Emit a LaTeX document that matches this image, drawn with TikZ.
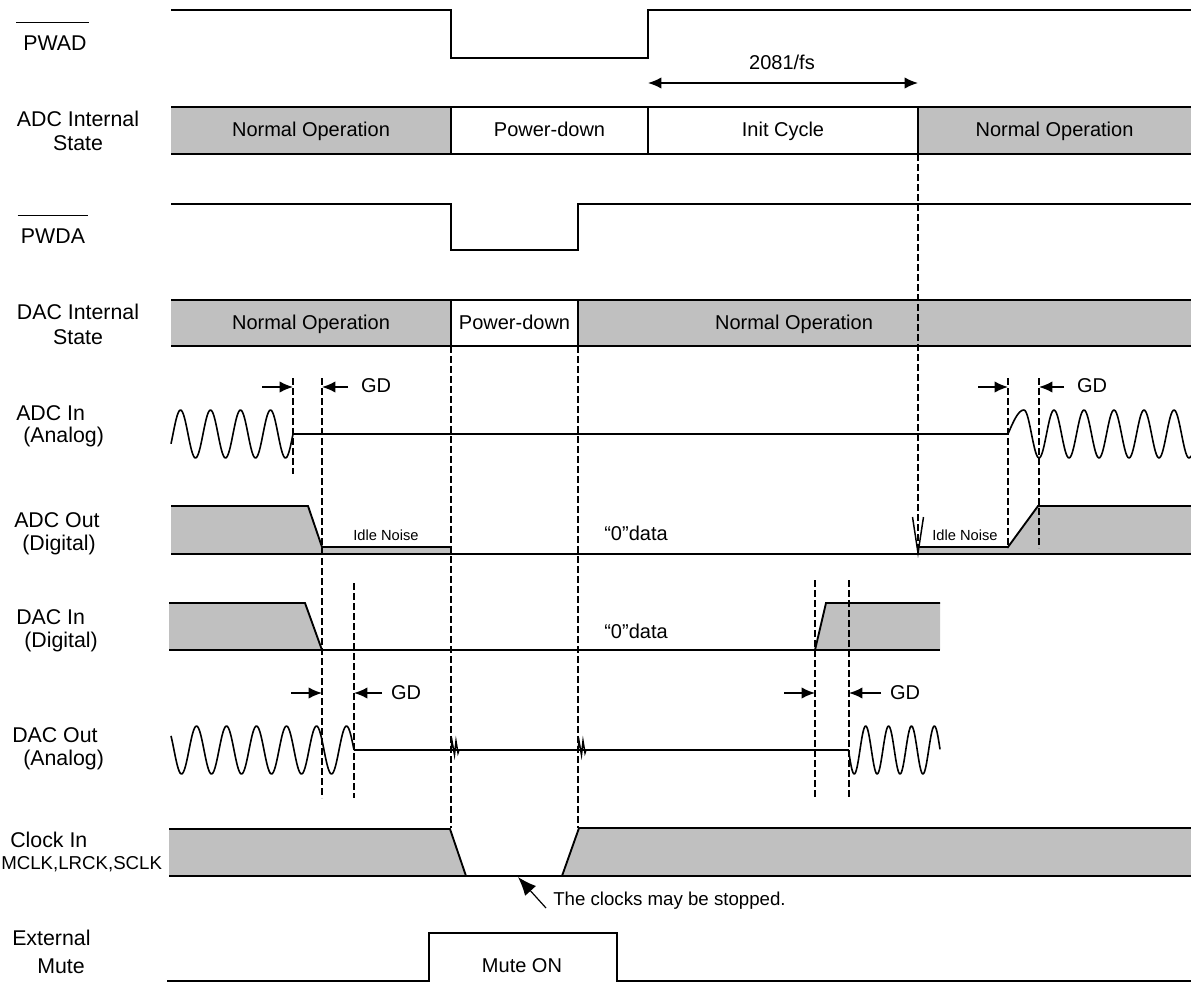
\documentclass[tikz,border=0pt]{standalone}
\usepackage{fontspec}
\setmainfont{Liberation Sans}
\usetikzlibrary{arrows.meta,calc}
\definecolor{gfill}{RGB}{192,192,192}
\begin{document}
\begin{tikzpicture}[x=0.75pt,y=-0.75pt,
  sig/.style={line width=1.4pt},
  wave/.style={line width=1.2pt, line join=round},
  dsh/.style={line width=1.1pt, dash pattern=on 5pt off 2.5pt},
  lbl/.style={font=\fontsize{16}{19}\selectfont, inner sep=0pt},
  txt/.style={font=\fontsize{15}{18}\selectfont, inner sep=0pt},
  bartxt/.style={font=\fontsize{15}{18}\selectfont, inner sep=0pt, anchor=base},
  smalltxt/.style={font=\fontsize{11}{13}\selectfont, inner sep=0pt},
  gdarrow/.style={-{Latex[length=10pt,width=8.5pt]}, line width=1.2pt},
  ]
\useasboundingbox (0,0) rectangle (1191,985);

% ---------- left labels ----------
\node[lbl] (pwad) at (55,43) {PWAD};
\draw[line width=1.2pt] ($(pwad.north west)+(-7,-13)$) -- ($(pwad.north east)+(2,-13)$);
\node[lbl] (adcst1) at (78,119) {ADC Internal};
\node[lbl] (adcst2) at (78,143) {State};
\node[lbl] (pwda) at (53,236) {PWDA};
\draw[line width=1.2pt] ($(pwda.north west)+(-3,-13)$) -- ($(pwda.north east)+(3,-13)$);
\node[lbl] (dacst1) at (78,312) {DAC Internal};
\node[lbl] (dacst2) at (78,337) {State};
\node[lbl,anchor=west] (adcin1) at (16,413) {ADC In};
\node[lbl,anchor=west] (adcin2) at (23,437) {(Analog)};
\node[lbl,anchor=west] (adcout1) at (14,520) {ADC Out};
\node[lbl,anchor=west] (adcout2) at (22,545) {(Digital)};
\node[lbl,anchor=west] (dacin1) at (16,617) {DAC In};
\node[lbl,anchor=west] (dacin2) at (24,642) {(Digital)};
\node[lbl,anchor=west] (dacout1) at (12,735) {DAC Out};
\node[lbl,anchor=west] (dacout2) at (23,760) {(Analog)};
\node[lbl,anchor=west] (clk1) at (10,840) {Clock In};
\node[anchor=west,inner sep=0pt,font=\fontsize{14}{16}\selectfont] (clk2) at (1,864) {MCLK,LRCK,SCLK};
\node[lbl,anchor=west] (mute1) at (12,938) {External};
\node[lbl,anchor=west] (mute2) at (37,966) {Mute};

% ---------- PWAD ----------
\coordinate (pa0) at (171,10);
\coordinate (pa1) at (451,10);
\coordinate (pa2) at (451,58);
\coordinate (pa3) at (648,58);
\coordinate (pa4) at (648,10);
\coordinate (pa5) at (1191,10);
\draw[sig] (pa0) -- (pa1) -- (pa2) -- (pa3) -- (pa4) -- (pa5);

% 2081/fs
\coordinate (ic0) at (648,83);
\coordinate (ic1) at (918,83);
\draw[line width=1.2pt,{Latex[length=10pt,width=8.5pt]}-{Latex[length=10pt,width=8.5pt]}] (ic0) -- (ic1);
\node[txt] (fs) at (782,62) {2081/fs};

% ---------- ADC internal state ----------
\fill[gfill] (171,107) rectangle (451,154);
\fill[gfill] (918,107) rectangle (1191,154);
\draw[sig] (171,107) -- (1191,107);
\draw[sig] (171,154) -- (1191,154);
\draw[sig] (451,107) -- (451,154);
\draw[sig] (648,107) -- (648,154);
\draw[sig] (918,107) -- (918,154);
\node[bartxt] (an1) at (311,136.5) {Normal Operation};
\node[bartxt] (apd) at (549.5,136.5) {Power-down};
\node[bartxt] (aic) at (783,136.5) {Init Cycle};
\node[bartxt] (an2) at (1054.5,136.5) {Normal Operation};

% ---------- PWDA ----------
\draw[sig] (171,204) -- (451,204) -- (451,250) -- (578,250) -- (578,204) -- (1191,204);

% ---------- DAC internal state ----------
\fill[gfill] (171,300) rectangle (451,346);
\fill[gfill] (578,300) rectangle (1191,346);
\draw[sig] (171,300) -- (1191,300);
\draw[sig] (171,346) -- (1191,346);
\draw[sig] (451,300) -- (451,346);
\draw[sig] (578,300) -- (578,346);
\node[bartxt] (dn1) at (311,329) {Normal Operation};
\node[bartxt] (dpd) at (514.5,329) {Power-down};
\node[bartxt] (dn2) at (794,329) {Normal Operation};

% ---------- ADC Out ----------
\fill[gfill] (171,506) -- (308,506) -- (322,547) -- (451,547) -- (451,554) -- (171,554) -- cycle;
\fill[gfill] (918,554) -- (918,547) -- (1008,547) -- (1038,506) -- (1191,506) -- (1191,554) -- cycle;
\draw[sig] (171,506) -- (308,506) -- (322,547) -- (451,547);
\draw[sig] (918,547) -- (1008,547) -- (1038,506) -- (1191,506);
\draw[sig] (171,554) -- (1191,554);
\node[smalltxt] (idle1) at (386,535) {Idle Noise};
\node[smalltxt] (idle2) at (965,535) {Idle Noise};
\node[txt] (zero1) at (636,533) {“0”data};

% ---------- ADC In ----------
\draw[wave] plot[domain=171:293,samples=120,smooth] (\x,{434-24*cos(12*(\x-270.5))});
\draw[sig] (293,434) -- (1008,434);
\draw[wave] plot[domain=1008:1024,samples=20,smooth] (\x,{434-24*sin(5.625*(\x-1008))})
            -- plot[domain=1024:1191,samples=160,smooth] (\x,{434-24*cos(12*(\x-1024))});

% ---------- DAC In ----------
\fill[gfill] (169,603) -- (305,603) -- (322,650) -- (169,650) -- cycle;
\fill[gfill] (815,650) -- (826,603) -- (940,603) -- (940,650) -- cycle;
\draw[sig] (169,603) -- (305,603) -- (322,650);
\draw[sig] (815,650) -- (826,603) -- (940,603);
\draw[sig] (169,650) -- (940,650);
\node[txt] (zero2) at (636,631) {“0”data};

% ---------- DAC Out ----------
\draw[wave] plot[domain=171:354,samples=180,smooth] (\x,{750-24*cos(12*(\x-346.5))});
\draw[sig] (354,750) -- (848.5,750);
\draw[wave] plot[domain=848.5:940,samples=120,smooth] (\x,{750+24*sin(15.72*(\x-848.5))});
\draw[line width=1.1pt] (451,750) -- (452,741) -- (454.5,755) -- (456,741) -- (458,753) -- (459,750);
\draw[line width=1.1pt] (578,750) -- (579,741) -- (581.5,755) -- (583,741) -- (585,753) -- (586,750);

% ---------- Clock In ----------
\fill[gfill] (169,829) -- (450,829) -- (466,876) -- (169,876) -- cycle;
\fill[gfill] (562,876) -- (579,828) -- (1191,828) -- (1191,876) -- cycle;
\draw[sig] (169,829) -- (450,829) -- (466,876);
\draw[sig] (562,876) -- (579,828) -- (1191,828);
\draw[sig] (169,876) -- (1191,876);
\node[anchor=west,inner sep=0pt,font=\fontsize{14}{16}\selectfont] (stop) at (553,901) {The clocks may be stopped.};
\coordinate (stoptip) at (518,877);
\coordinate (stoptail) at (546,908);
\draw[line width=0.9pt,-{Latex[length=14pt,width=11pt]}] (stoptail) -- (stoptip);

% ---------- External Mute ----------
\draw[sig] (167,981) -- (429,981) -- (429,933) -- (617,933) -- (617,981) -- (1191,981);
\node[txt] (muteon) at (522,966) {Mute ON};

% ---------- dashed guides ----------
\draw[dsh] (918,154) -- (918,553);
\draw[line width=1.1pt] (912.5,517) -- (918,553) -- (923.5,517);
\draw[dsh] (451,346) -- (451,828);
\draw[dsh] (578,346) -- (578,828);
\draw[dsh] (293,378) -- (293,474);
\draw[dsh] (322,378) -- (322,798);
\draw[dsh] (354,583) -- (354,798);
\draw[dsh] (815,580) -- (815,798);
\draw[dsh] (849,580) -- (849,798);
\draw[dsh] (1008,378) -- (1008,548);
\draw[dsh] (1039,378) -- (1039,548);

% ---------- GD markers ----------
\draw[gdarrow] (262,387) -- (293,387);
\draw[gdarrow] (348,387) -- (322,387);
\node[txt] (gd1) at (376,386) {GD};
\draw[gdarrow] (978,387) -- (1008,387);
\draw[gdarrow] (1064,387) -- (1039,387);
\node[txt] (gd2) at (1092,386) {GD};
\draw[gdarrow] (291,693) -- (322,693);
\draw[gdarrow] (382,693) -- (354,693);
\node[txt] (gd3) at (406,693) {GD};
\draw[gdarrow] (784,693) -- (815,693);
\draw[gdarrow] (881,693) -- (849,693);
\node[txt] (gd4) at (905,693) {GD};
\end{tikzpicture}
\end{document}
